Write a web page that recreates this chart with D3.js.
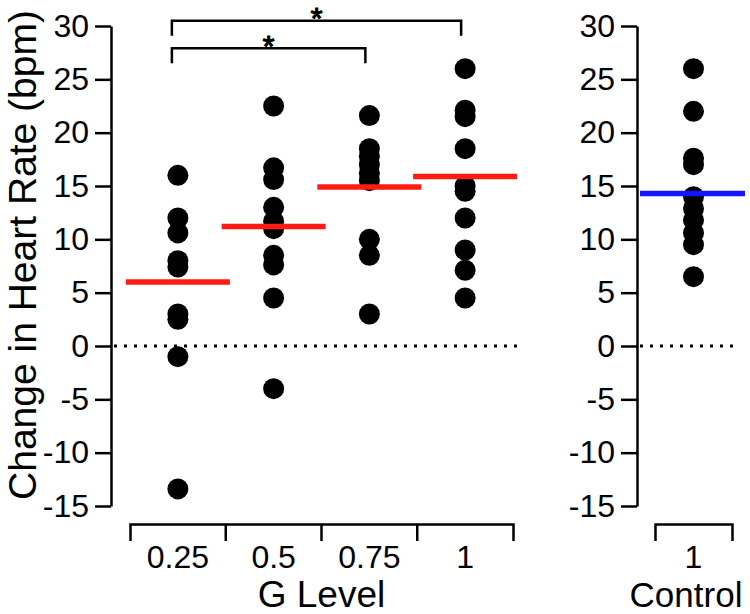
<!DOCTYPE html>
<html>
<head>
<meta charset="utf-8">
<script src="https://cdn.jsdelivr.net/npm/d3@7"></script>
<style>
  html, body { margin: 0; padding: 0; background: #fff; }
  svg { display: block; font-family: "Liberation Sans", Arial, Helvetica, sans-serif; }
  .axis path, .axis line { stroke: #000; stroke-width: 2.5; }
  .axis text { font-size: 32px; fill: #000; }
</style>
</head>
<body>
<div id="chart"></div>
<script>
// ── Data ──────────────────────────────────────────────────────────────────
const yTicks    = [-15, -10, -5, 0, 5, 10, 15, 20, 25, 30];
const gLevels   = ["0.25", "0.5", "0.75", "1"];
const g025      = [16.0, 12.0, 10.6, 8.0, 7.4, 3.0, 2.5, -1.0, -13.4];
const g050      = [22.5, 16.7, 15.6, 13.0, 11.7, 11.0, 8.5, 7.6, 4.5, -4.0];
const g075      = [21.6, 18.5, 17.8, 17.0, 16.2, 15.5, 10.0, 8.5, 3.0];
const g100      = [26.0, 22.1, 21.5, 18.5, 15.0, 14.5, 12.0, 9.0, 7.1, 4.5];
const gMeans    = [6.0, 11.2, 14.9, 15.9];
const ctlLevels = ["1"];
const control   = [26.0, 22.0, 17.6, 17.0, 14.0, 12.9, 11.8, 10.6, 9.5, 6.5];
const ctlMean   = [14.3];
const sigPairs  = [["0.25", "0.75"], ["0.25", "1"]];

const groups = [g025, g050, g075, g100];

// ── Layout ────────────────────────────────────────────────────────────────
const W = 750, H = 614;
const leftAxisX = 111, rightAxisX = 637;
const bottomAxisY = 524;
const R = 10.5;

const svg = d3.select("#chart").append("svg")
  .attr("width", W).attr("height", H);

// ── Scales ────────────────────────────────────────────────────────────────
const y = d3.scaleLinear().domain([-15, 30]).range([506, 26]);
const x = d3.scaleBand().domain(gLevels).range([130, 513]);
const xc = d3.scaleBand().domain(ctlLevels).range([655, 732]);

// ── Y axes ────────────────────────────────────────────────────────────────
[leftAxisX, rightAxisX].forEach(ax => {
  svg.append("g")
    .attr("class", "axis")
    .attr("transform", `translate(${ax},0)`)
    .call(d3.axisLeft(y).tickValues(yTicks)
      .tickSizeInner(16).tickSizeOuter(0).tickPadding(6)
      .tickFormat(d => d));
});

// ── Category axes (bracket style, edges ticked) ───────────────────────────
function catAxis(scale) {
  const gAx = svg.append("g")
    .attr("class", "axis")
    .attr("transform", `translate(0,${bottomAxisY})`)
    .call(d3.axisBottom(scale).tickSizeInner(0).tickSizeOuter(17).tickPadding(21));
  gAx.selectAll(".tick line").remove();
  scale.domain().slice(1).forEach(d => {
    gAx.append("line")
      .attr("x1", scale(d)).attr("x2", scale(d))
      .attr("y1", 0).attr("y2", 17);
  });
}
catAxis(x);
catAxis(xc);

// axis titles
svg.append("text")
  .attr("x", (x.range()[0] + x.range()[1]) / 2).attr("y", 607)
  .attr("text-anchor", "middle").attr("font-size", 37)
  .text("G Level");

svg.append("text")
  .attr("x", 686).attr("y", 607)
  .attr("text-anchor", "middle").attr("font-size", 35)
  .text("Control");

svg.append("text")
  .attr("transform", "rotate(-90)")
  .attr("x", -255).attr("y", 36)
  .attr("text-anchor", "middle").attr("font-size", 39)
  .text("Change in Heart Rate (bpm)");

// ── Zero reference lines ──────────────────────────────────────────────────
const zeroLine = (x1, x2) => svg.append("line")
  .attr("x1", x1).attr("x2", x2)
  .attr("y1", y(0)).attr("y2", y(0))
  .attr("stroke", "#000").attr("stroke-width", 3)
  .attr("stroke-dasharray", "3,7");
zeroLine(leftAxisX + 3, x.range()[1] + 9);
zeroLine(rightAxisX + 3, 738);

// ── Dots ──────────────────────────────────────────────────────────────────
groups.forEach((vals, i) => {
  const cx = x(gLevels[i]) + x.bandwidth() / 2;
  svg.append("g").selectAll("circle")
    .data(vals).join("circle")
    .attr("cx", cx).attr("cy", d => y(d))
    .attr("r", R).attr("fill", "#000");
});

svg.append("g").selectAll("circle")
  .data(control).join("circle")
  .attr("cx", xc(ctlLevels[0]) + xc.bandwidth() / 2)
  .attr("cy", d => y(d))
  .attr("r", R).attr("fill", "#000");

// ── Mean lines ────────────────────────────────────────────────────────────
const half = 52;
svg.append("g").selectAll("line")
  .data(gMeans).join("line")
  .attr("x1", (d, i) => x(gLevels[i]) + x.bandwidth() / 2 - half)
  .attr("x2", (d, i) => x(gLevels[i]) + x.bandwidth() / 2 + half)
  .attr("y1", d => y(d)).attr("y2", d => y(d))
  .attr("stroke", "#ff1a12").attr("stroke-width", 5.5);

svg.append("g").selectAll("line")
  .data(ctlMean).join("line")
  .attr("x1", rightAxisX + 3)
  .attr("x2", 745)
  .attr("y1", d => y(d)).attr("y2", d => y(d))
  .attr("stroke", "#1414ff").attr("stroke-width", 5.5);

// ── Significance brackets ─────────────────────────────────────────────────
const bracketTop = [48.3, 20.7];   // one level per pair, lower pair first
const starSize = 30;
sigPairs.forEach(([a, b], i) => {
  const x1 = x(a) + x.bandwidth() / 2 - 6;
  const x2 = x(b) + x.bandwidth() / 2 - 4;
  const by = bracketTop[i];
  svg.append("path")
    .attr("d", `M${x1},${by + 15}V${by}H${x2}V${by + 15}`)
    .attr("fill", "none").attr("stroke", "#000").attr("stroke-width", 2.5);
  // star sits ~10px above the bracket; font box kept inside the canvas
  svg.append("text")
    .attr("x", (x1 + x2) / 2).attr("y", by - 10 + 0.58 * starSize)
    .attr("text-anchor", "middle").attr("font-size", starSize)
    .attr("stroke", "#000").attr("stroke-width", 1.2)
    .text("*");
});
</script>
</body>
</html>
